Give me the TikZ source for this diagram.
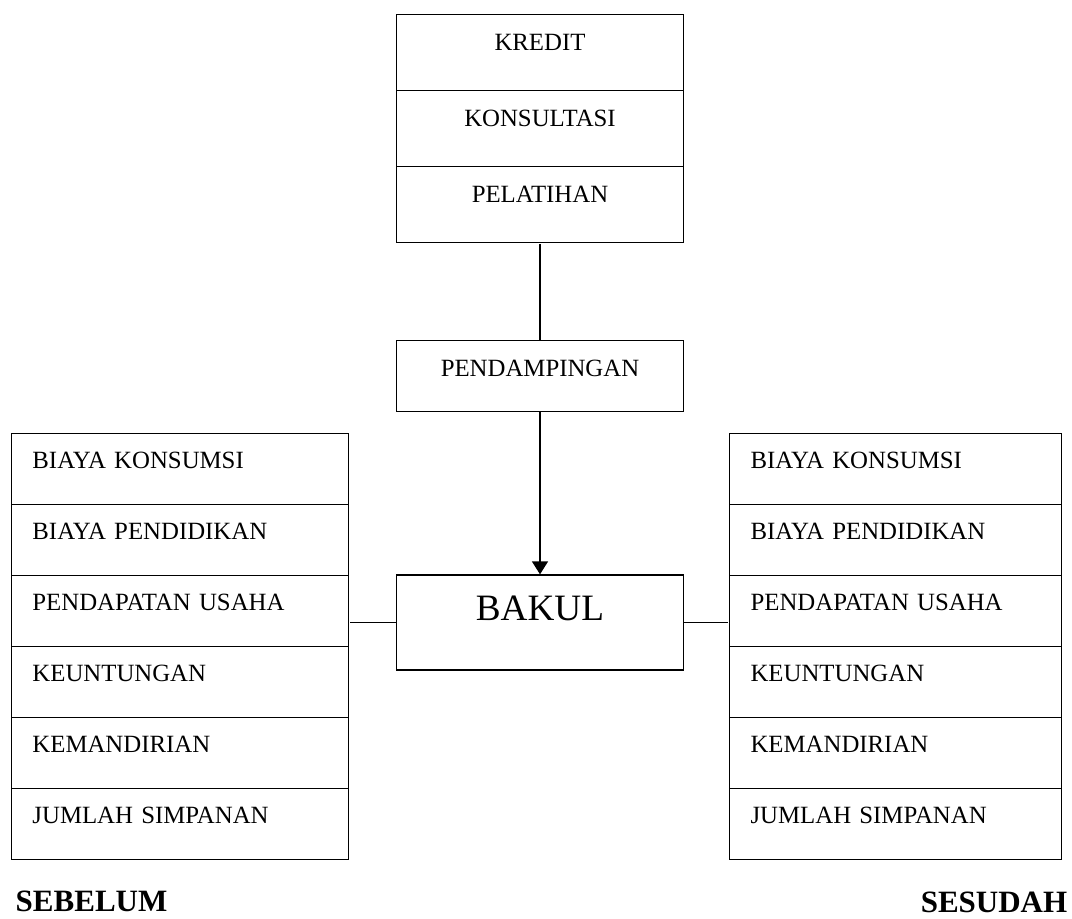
\documentclass[tikz,border=0pt]{standalone}
\usepackage{fontspec}
\setmainfont{Liberation Serif}
\usetikzlibrary{matrix, positioning, arrows.meta}
\newlength{\unitpx}
\setlength{\unitpx}{0.017cm}

\begin{document}
\begin{tikzpicture}[
    x=\unitpx, y=-\unitpx, line width=0.7pt,
    list-arr/.style={matrix of nodes, inner sep=0pt, row sep=-\pgflinewidth, nodes={draw, font=\fontsize{12}{14}\selectfont, inner xsep=21\unitpx, inner ysep=0pt, text height=35\unitpx, text depth=36\unitpx, align=left}},
    box/.style={draw, font=\fontsize{12}{14}\selectfont, text width=245\unitpx, inner xsep=21\unitpx, inner ysep=0pt, align=center, text height=36\unitpx, text depth=35\unitpx},
    note/.style={inner sep=0pt, font=\fontsize{15}{18}\selectfont\bfseries}
  ]
  \useasboundingbox (0,0) rectangle (1072,918);

%% the three kinds of support, stacked in one box
    \matrix (T) [list-arr, nodes={align=center, text width=245\unitpx, text height=36\unitpx, text depth=40\unitpx}, anchor=north] at (540,13) {
    KREDIT \\
    KONSULTASI \\
    PELATIHAN \\
  };

    \node[box, below=96\unitpx of T] (P) {PENDAMPINGAN};
    \node[box, below=162\unitpx of P, text height=45\unitpx, text depth=50\unitpx, font=\fontsize{18}{21}\selectfont] (B) {BAKUL};

    \draw (T.south) -- (P.north);
    \draw[-{Triangle[length=0.22cm, width=0.27cm]}] (P.south) -- (B.north);

%% the same six measures, before and after
    \matrix (L) [list-arr, nodes={text width=295\unitpx}, anchor=north west] at (10,432) {
    BIAYA KONSUMSI \\
    BIAYA PENDIDIKAN \\
    PENDAPATAN USAHA \\
    KEUNTUNGAN \\
    KEMANDIRIAN \\
    JUMLAH SIMPANAN \\
  };
  \node[note, below right=29\unitpx and 5\unitpx of L.south west] (before) {SEBELUM};

    \matrix (R) [list-arr, nodes={text width=290\unitpx}, anchor=north east] at (1063,432) {
    BIAYA KONSUMSI \\
    BIAYA PENDIDIKAN \\
    PENDAPATAN USAHA \\
    KEUNTUNGAN \\
    KEMANDIRIAN \\
    JUMLAH SIMPANAN \\
  };
  \node[note, below left=30\unitpx and -5\unitpx of R.south east] (after) {SESUDAH};

    \draw (B.west) -- (B.west -| L.east);
    \draw (B.east) -- (B.east -| R.west);

\end{tikzpicture}
\end{document}
